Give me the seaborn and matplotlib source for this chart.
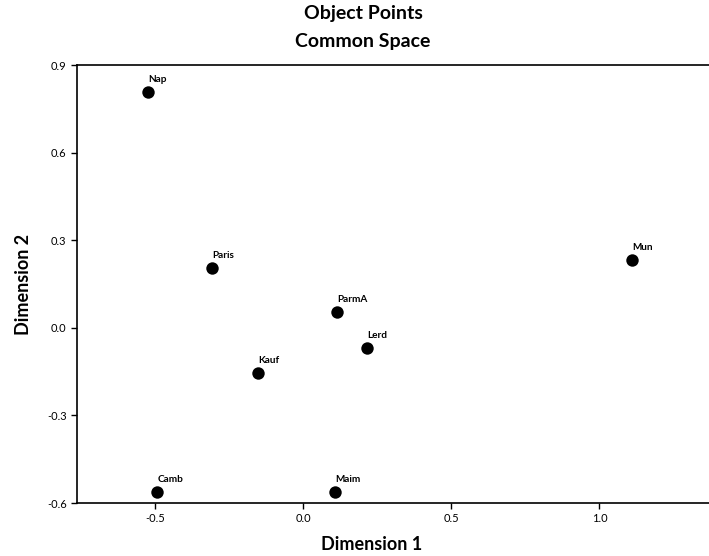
import matplotlib
matplotlib.use("Agg")
import matplotlib.pyplot as plt
import pandas as pd
import seaborn as sns

# object coordinates
labels = ["Nap", "Paris", "ParmA", "Lerd", "Kauf", "Camb", "Maim", "Mun"]
dim1 = [-0.524, -0.307, 0.115, 0.216, -0.152, -0.493, 0.108, 1.111]
dim2 = [0.808, 0.205, 0.054, -0.069, -0.155, -0.562, -0.562, 0.232]

xticks = [-0.5, 0.0, 0.5, 1.0]
yticks = [-0.6, -0.3, 0.0, 0.3, 0.6, 0.9]

df = pd.DataFrame({"label": labels, "Dimension 1": dim1, "Dimension 2": dim2})

sns.set_style("white")
plt.rcParams["font.family"] = ["Lato", "DejaVu Sans"]
plt.rcParams["text.color"] = "black"
plt.rcParams["axes.labelcolor"] = "black"
plt.rcParams["xtick.color"] = "black"
plt.rcParams["ytick.color"] = "black"

fig = plt.figure(figsize=(7.09, 5.56), dpi=100)
ax = fig.add_axes([77 / 709, 53 / 556, 1 - 77 / 709, 438 / 556])

sns.scatterplot(data=df, x="Dimension 1", y="Dimension 2", ax=ax,
                color="black", s=80, edgecolor="black", linewidth=0)

for _, row in df.iterrows():
    ax.annotate(row["label"], (row["Dimension 1"], row["Dimension 2"]),
                xytext=(0, 8), textcoords="offset pixels",
                fontsize=7.2, fontweight="bold", ha="left", va="bottom")

ax.set_xlim(-0.764, 1.37)
ax.set_ylim(-0.6, 0.9)
ax.set_xticks(xticks)
ax.set_yticks(yticks)
ax.set_xticklabels([f"{v:.1f}" for v in xticks])
ax.set_yticklabels([f"{v:.1f}" for v in yticks])
ax.tick_params(axis="both", direction="out", length=4, width=1,
               labelsize=8, color="black", labelcolor="black",
               bottom=True, left=True)

for side in ["left", "bottom", "top"]:
    ax.spines[side].set_color("black")
    ax.spines[side].set_linewidth(1.2)
ax.spines["right"].set_visible(False)

ax.set_xlabel("")
ax.set_ylabel("Dimension 2", fontsize=13, fontweight="bold", labelpad=11)
fig.text(372 / 709, 1 - 544 / 556, "Dimension 1", ha="center", va="center",
         fontsize=13, fontweight="bold")

fig.text(363 / 709, 1 - 14 / 556, "Object Points", ha="center", va="center",
         fontsize=14, fontweight="bold")
fig.text(363 / 709, 1 - 41 / 556, "Common Space", ha="center", va="center",
         fontsize=14, fontweight="bold")

fig.savefig("out.png", dpi=100)
